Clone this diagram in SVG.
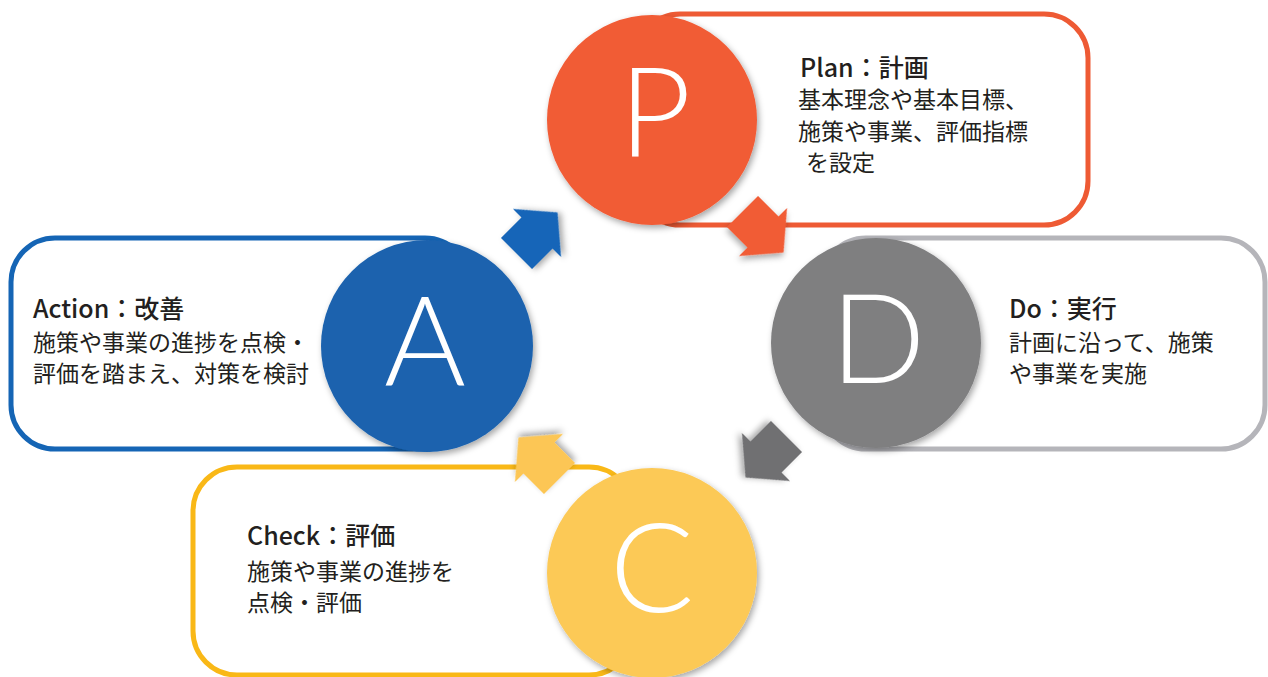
<svg xmlns="http://www.w3.org/2000/svg" width="1268" height="677" viewBox="0 0 1268 677">
  <defs>
    <filter id="sh" x="-20%" y="-20%" width="140%" height="140%">
      <feDropShadow dx="2" dy="3" stdDeviation="3" flood-color="#000" flood-opacity="0.35"/>
    </filter>
    <path id="arr" d="M -29,-22 L 0,-22 L 0,-34 L 29,0 L 0,34 L 0,22 L -29,22 Z"/>
  </defs>
  <style>
    .box { fill: #ffffff; stroke-width: 5; }
    .circ { filter: url(#sh); }
    .big { font-family: Lato, "Open Sans", "DejaVu Sans", sans-serif; font-weight: 300; font-size: 125px; fill: #ffffff; text-anchor: middle; }
    .ttl { font-family: "Noto Sans CJK JP", "Noto Sans", sans-serif; font-weight: 500; font-size: 25px; fill: #231f20; }
    .txt { font-family: "Noto Sans CJK JP", "Noto Sans", sans-serif; font-weight: 400; font-size: 23px; fill: #231f20; }
  </style>

  <g id="boxes">
    <rect id="plan-box" class="box" x="636" y="14" width="452" height="211" rx="44" stroke="#ee5a34"/>
    <rect id="action-box" class="box" x="11" y="238" width="458" height="211" rx="44" stroke="#1565b5"/>
    <rect id="do-box" class="box" x="822" y="238" width="443" height="211" rx="44" stroke="#b5b5ba"/>
    <rect id="check-box" class="box" x="193" y="467" width="440" height="208" rx="44" stroke="#f9b817"/>
  </g>

  <g id="connectors">
    <use href="#arr" transform="translate(537,233) rotate(-45)" fill="#1565b8" filter="url(#sh)"/>
    <use href="#arr" transform="translate(763,232) rotate(45)" fill="#f15b36" filter="url(#sh)"/>
    <use href="#arr" transform="translate(766,457) rotate(135)" fill="#707072" filter="url(#sh)"/>
    <use href="#arr" transform="translate(539,458) rotate(225)" fill="#fcc655" filter="url(#sh)"/>
  </g>

  <g id="node-plan">
    <circle class="circ" cx="652" cy="120" r="105" fill="#f15b36"/>
    <text class="big" x="655" y="157">P</text>
    <text class="ttl" x="800" y="77">Plan：計画</text>
    <text class="txt" x="798" y="108">基本理念や基本目標、</text>
    <text class="txt" x="798" y="140">施策や事業、評価指標</text>
    <text class="txt" x="806" y="171">を設定</text>
  </g>

  <g id="node-action">
    <circle class="circ" cx="427" cy="346" r="106" fill="#1b62ae"/>
    <text class="big" x="425" y="385">A</text>
    <text class="ttl" x="33" y="318">Action：改善</text>
    <text class="txt" x="33" y="351">施策や事業の進捗を点検・</text>
    <text class="txt" x="33" y="382">評価を踏まえ、対策を検討</text>
  </g>

  <g id="node-do">
    <circle class="circ" cx="876" cy="343" r="105" fill="#7f7f80"/>
    <text class="big" x="878" y="383">D</text>
    <text class="ttl" x="1009" y="318">Do：実行</text>
    <text class="txt" x="1009" y="351">計画に沿って、施策</text>
    <text class="txt" x="1009" y="382">や事業を実施</text>
  </g>

  <g id="node-check">
    <circle class="circ" cx="652" cy="573" r="105" fill="#fcc957"/>
    <text class="big" x="652" y="612">C</text>
    <text class="ttl" x="247" y="545">Check：評価</text>
    <text class="txt" x="247" y="580">施策や事業の進捗を</text>
    <text class="txt" x="247" y="611">点検・評価</text>
  </g>
</svg>
